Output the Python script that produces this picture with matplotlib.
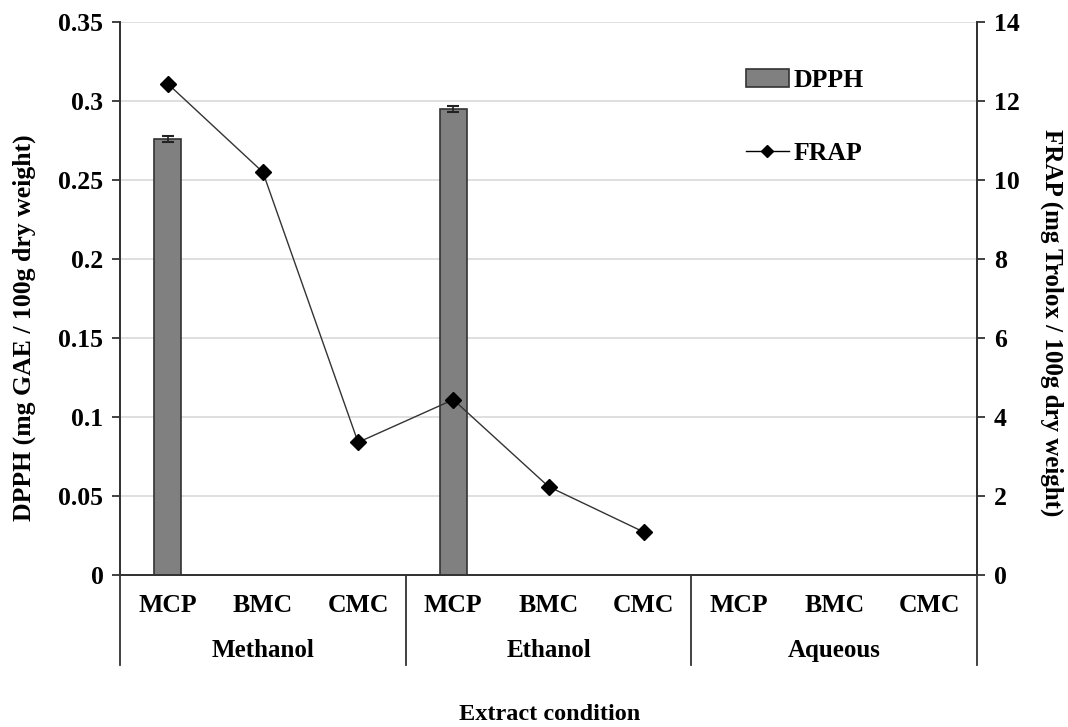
import matplotlib
matplotlib.use("Agg")
import matplotlib.pyplot as plt
import matplotlib.transforms as mtransforms
from matplotlib.lines import Line2D
from matplotlib.patches import Patch
import numpy as np

plt.rcParams['font.family'] = ['Liberation Serif', 'DejaVu Serif']
plt.rcParams['font.weight'] = 'bold'

groups = ["Methanol", "Ethanol", "Aqueous"]
categories = ["MCP", "BMC", "CMC"] * 3
dpph = [0.276, 0, 0, 0.295, 0, 0, 0, 0, 0]
dpph_err = [0.002, 0, 0, 0.002, 0, 0, 0, 0, 0]
frap = [12.44, 10.2, 3.36, 4.44, 2.24, 1.09]
left_ticks = [0, 0.05, 0.1, 0.15, 0.2, 0.25, 0.3, 0.35]
left_ticklabels = ["0", "0.05", "0.1", "0.15", "0.2", "0.25", "0.3", "0.35"]
right_ticks = [0, 2, 4, 6, 8, 10, 12, 14]

fig = plt.figure(figsize=(10.68, 7.27), dpi=100)
ax = fig.add_axes([0.1124, 0.209, 0.8024, 0.7607])
ax2 = ax.twinx()

x = np.arange(len(categories))
bar_idx = [i for i, v in enumerate(dpph) if v > 0]
ax.bar(x[bar_idx], [dpph[i] for i in bar_idx], width=0.29, color="#808080",
       edgecolor="#333333", linewidth=1.2, zorder=3,
       yerr=[dpph_err[i] for i in bar_idx], capsize=4,
       error_kw=dict(ecolor="#222222", elinewidth=1.2, capthick=1.5))

ax2.plot(x[:len(frap)], frap, color="#333333", linewidth=1.0, marker="D",
         markersize=8, markerfacecolor="black", markeredgecolor="black", zorder=4)

ax.set_xlim(-0.5, 8.5)
ax.set_ylim(0, 0.35)
ax2.set_ylim(0, 14)
ax.set_yticks(left_ticks)
ax.set_yticklabels(left_ticklabels)
ax2.set_yticks(right_ticks)
ax.grid(axis="y", color="#d9d9d9", linewidth=1.2, zorder=0)
ax.set_axisbelow(True)

for a in (ax, ax2):
    a.spines["top"].set_visible(False)
    for s in ("left", "right", "bottom"):
        a.spines[s].set_color("#333333")
        a.spines[s].set_linewidth(1.3)
    a.tick_params(axis="y", direction="out", length=6, width=1.3, color="#333333",
                  labelsize=18.5, pad=6)
ax.set_xticks([])
ax2.set_xticks([])

ax.set_ylabel("DPPH (mg GAE / 100g dry weight)", fontsize=18.5, fontweight="bold",
              va="center")
ax.yaxis.set_label_coords(-0.112, 0.448)
ax2.set_ylabel("FRAP (mg Trolox / 100g dry weight)", fontsize=18, fontweight="bold",
               rotation=270, va="center")
ax2.yaxis.set_label_coords(1.087, 0.457)

trans = mtransforms.blended_transform_factory(ax.transData, ax.transAxes)
for xi, lab in zip(x, categories):
    ax.text(xi, -0.055, lab, transform=trans, ha="center", va="center",
            fontsize=18.5, fontweight="bold")
for gi, g in enumerate(groups):
    ax.text(gi * 3 + 1, -0.136, g, transform=trans, ha="center", va="center",
            fontsize=18, fontweight="bold")
for sx in [-0.5, 2.5, 5.5, 8.5]:
    ax.plot([sx, sx], [0, -0.163], transform=trans, color="#333333",
            linewidth=1.3, clip_on=False)

fig.text(0.515, 1 - 715 / 727, "Extract condition", ha="center", va="center",
         fontsize=17.5, fontweight="bold")

handles = [Patch(facecolor="#808080", edgecolor="#333333", linewidth=1.2),
           Line2D([0], [0], color="black", linewidth=1.0, marker="D", markersize=6)]
ax2.legend(handles, ["DPPH", "FRAP"], loc="upper left", bbox_to_anchor=(0.703, 0.957),
           frameon=False, labelspacing=1.95, handlelength=1.7,
           handletextpad=0.15, prop={"weight": "bold", "size": 18.5})

fig.savefig("out.png", dpi=100)
